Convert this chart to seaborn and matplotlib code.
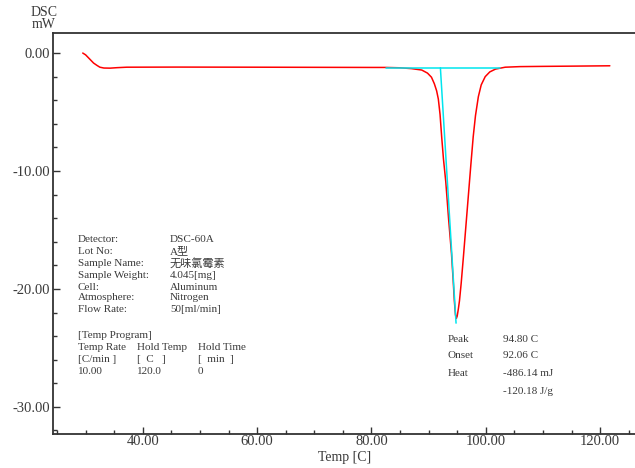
import matplotlib
matplotlib.use("Agg")
import matplotlib.pyplot as plt
import seaborn as sns
import pandas as pd
from matplotlib.ticker import MultipleLocator, FixedLocator

# ---- data ----
temp = [29.5, 30.0, 30.8, 31.4, 32.0, 32.5, 33.2, 34.3, 35.5, 37.2, 46.0, 60.0, 70.0, 80.0,
        82.5, 85.0, 87.0, 88.8, 89.8, 90.5, 91.0, 91.4, 91.7, 92.0, 92.3, 92.6, 93.0, 93.5,
        94.0, 94.3, 94.5, 94.7, 94.85, 95.0, 95.2, 95.4, 95.7, 96.1, 96.5, 97.0, 97.4, 97.8,
        98.2, 98.7, 99.2, 99.9, 100.7, 101.7, 103.4, 106.0, 110.0, 115.0, 121.7]
dsc = [0.0, -0.15, -0.55, -0.85, -1.05, -1.2, -1.27, -1.28, -1.24, -1.2, -1.19, -1.2, -1.21, -1.22,
       -1.22, -1.25, -1.32, -1.44, -1.7, -2.05, -2.6, -3.2, -3.9, -5.2, -7.2, -9.0, -10.9, -14.1,
       -17.0, -19.3, -21.0, -22.2, -22.5, -22.3, -21.7, -21.0, -19.5, -17.2, -14.8, -11.8, -9.4, -7.1,
       -5.3, -3.7, -2.7, -2.0, -1.6, -1.36, -1.2, -1.15, -1.13, -1.11, -1.08]

base_temp = [82.5, 102.5]
base_dsc = [-1.25, -1.25]
tangent_temp = [92.06, 94.8]
tangent_dsc = [-1.25, -22.9]

xticks = [40, 60, 80, 100, 120]
yticks = [0, -10, -20, -30]

info_labels = ["Detector:", "Lot No:", "Sample Name:", "Sample Weight:", "Cell:", "Atmosphere:", "Flow Rate:"]
info_values = ["DSC-60A", "A型", "无味氯霉素", "4.045[mg]", "Aluminum", "Nitrogen", "50[ml/min]"]
prog_rows = [["Temp Rate", "Hold Temp", "Hold Time"],
             ["[C/min ]", "[  C   ]", "[  min  ]"],
             ["10.00", "120.0", "0"]]
result_labels = ["Peak", "Onset", "Heat", ""]
result_values = ["94.80 C", "92.06 C", "-486.14 mJ", "-120.18 J/g"]

# ---- style ----
sns.set_style("ticks")
FAM = ["Liberation Serif", "Noto Sans CJK SC", "DejaVu Sans"]
plt.rcParams["font.family"] = FAM
TXT = "#3a3a3a"

W, H = 635, 468
fig = plt.figure(figsize=(W / 100, H / 100), dpi=100)
ax = fig.add_axes([53 / W, 1 - 434 / H, (W - 53) / W, (434 - 33) / H])

df = pd.DataFrame({"temp": temp, "dsc": dsc})
sns.lineplot(data=df, x="temp", y="dsc", ax=ax, color="#ff0000", lw=1.1, sort=False, zorder=2)
sns.lineplot(x=base_temp, y=base_dsc, ax=ax, color="#00e5ee", lw=1.1, zorder=3)
sns.lineplot(x=tangent_temp, y=tangent_dsc, ax=ax, color="#00e5ee", lw=1.1, zorder=3)

ax.set_xlim(24.3, 126.1)
ax.set_ylim(-32.3, 1.7)
ax.xaxis.set_major_locator(FixedLocator(xticks))
ax.yaxis.set_major_locator(FixedLocator(yticks))
ax.xaxis.set_minor_locator(MultipleLocator(5))
ax.yaxis.set_minor_locator(MultipleLocator(2))
ax.set_xticklabels([f"{v:.2f}" for v in xticks])
ax.set_yticklabels([f"{v:.2f}" for v in yticks])

ax.tick_params(which="both", direction="in", colors="#333333", labelcolor=TXT, labelsize=10.5)
ax.tick_params(which="major", length=5, width=1)
ax.tick_params(which="minor", length=3, width=1)
ax.tick_params(axis="x", pad=1)
ax.tick_params(axis="y", pad=2)

for s in ["left", "bottom", "top"]:
    ax.spines[s].set_visible(True)
    ax.spines[s].set_color("#333333")
    ax.spines[s].set_linewidth(1.3)
ax.spines["right"].set_visible(False)

ax.set_xlabel("")
ax.set_ylabel("")

def ft(x, y, s, size=8, ha="left"):
    fig.text(x / W, 1 - y / H, s, ha=ha, va="center", fontsize=size, color=TXT, family=FAM)

ft(345, 457, "Temp [C]", size=10, ha="center")
ft(44, 12, "DSC", size=10, ha="center")
ft(44, 25, "mW", size=10, ha="center")

ys = [240, 251, 263, 275, 287, 298, 310]
for y, lab, val in zip(ys, info_labels, info_values):
    ft(78, y, lab)
    ft(170, y, val)

ft(78, 335, "[Temp Program]")
cols = [78, 137, 198]
for y, row in zip([348, 360, 372], prog_rows):
    for x, s in zip(cols, row):
        ft(x, y, s)

for y, lab, val in zip([340, 356, 374, 391], result_labels, result_values):
    if lab:
        ft(448, y, lab)
    ft(503, y, val)

fig.savefig("out.png", dpi=100)
